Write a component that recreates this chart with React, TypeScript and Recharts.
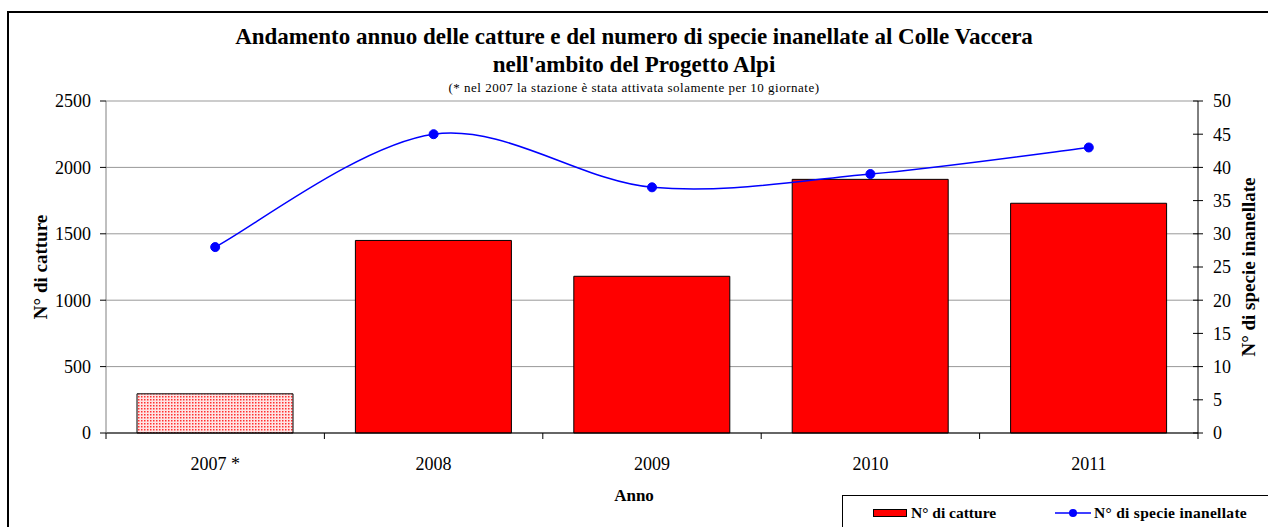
import { ComposedChart, Bar, Line, XAxis, YAxis, CartesianGrid, Cell } from "recharts";

const years = ["2007 *", "2008", "2009", "2010", "2011"];
const catture = [295, 1450, 1180, 1910, 1730];
const specie = [28, 45, 37, 39, 43];
const leftTicks = [0, 500, 1000, 1500, 2000, 2500];
const rightTicks = [0, 5, 10, 15, 20, 25, 30, 35, 40, 45, 50];

const data = years.map((anno, i) => ({ anno, catture: catture[i], specie: specie[i] }));

const FONT = "'Liberation Serif', 'Times New Roman', serif";

// Excel-like smoothed line (Catmull-Rom through the points)
function smoothCurve(context: any) {
  let pts: [number, number][] = [];
  return {
    areaStart() {},
    areaEnd() {},
    lineStart() {
      pts = [];
    },
    lineEnd() {
      if (!pts.length) return;
      context.moveTo(pts[0][0], pts[0][1]);
      for (let i = 0; i < pts.length - 1; i++) {
        const p0 = pts[i - 1] || pts[i];
        const p1 = pts[i];
        const p2 = pts[i + 1];
        const p3 = pts[i + 2] || p2;
        context.bezierCurveTo(
          p1[0] + (p2[0] - p0[0]) / 6,
          p1[1] + (p2[1] - p0[1]) / 6,
          p2[0] - (p3[0] - p1[0]) / 6,
          p2[1] - (p3[1] - p1[1]) / 6,
          p2[0],
          p2[1]
        );
      }
    },
    point(x: number, y: number) {
      pts.push([x, y]);
    },
  };
}

const XTick = (props: any) => {
  const { x, y, payload, index, width, visibleTicksCount } = props;
  const band = width / visibleTicksCount;
  const ay = y - 6;
  return (
    <g>
      <line x1={x - band / 2} x2={x - band / 2} y1={ay} y2={ay + 6} stroke="#000" />
      {index === visibleTicksCount - 1 && (
        <line x1={x + band / 2} x2={x + band / 2} y1={ay} y2={ay + 6} stroke="#000" />
      )}
      <text x={x} y={y + 18} dy="0.71em" textAnchor="middle" fontFamily={FONT} fontSize={18} fill="#000">
        {payload.value}
      </text>
    </g>
  );
};

const RightTick = (props: any) => {
  const { x, y, payload } = props;
  const ax = x - 5 - 10;
  return (
    <g>
      <line x1={ax - 5} x2={ax} y1={y} y2={y} stroke="#000" />
      <text x={x} y={y} dy="0.355em" textAnchor="start" fontFamily={FONT} fontSize={18} fill="#000">
        {payload.value}
      </text>
    </g>
  );
};

const LeftLabel = (props: any) => {
  const { viewBox } = props;
  const cx = viewBox.x + 20;
  const cy = viewBox.y + viewBox.height / 2;
  return (
    <text x={cx} y={cy} transform={`rotate(-90, ${cx}, ${cy})`} textAnchor="middle" dominantBaseline="central"
      fontFamily={FONT} fontSize={19} fontWeight="bold" fill="#000">
      N° di catture
    </text>
  );
};

const RightLabel = (props: any) => {
  const { viewBox } = props;
  const cx = viewBox.x + 50;
  const cy = viewBox.y + viewBox.height / 2;
  return (
    <text x={cx} y={cy} transform={`rotate(-90, ${cx}, ${cy})`} textAnchor="middle" dominantBaseline="central"
      fontFamily={FONT} fontSize={19} fontWeight="bold" fill="#000">
      N° di specie inanellate
    </text>
  );
};

export default function App() {
  return (
    <div style={{ position: "absolute", left: 0, top: 0, width: 1268, height: 527, overflow: "hidden", background: "#fff", fontFamily: FONT }}>
      <div style={{ position: "absolute", left: 7, top: 11, width: 1300, height: 600, border: "2px solid #000", boxSizing: "border-box" }} />
      <div style={{ position: "absolute", left: 0, top: 0 }}>
        <ComposedChart width={1268} height={527} data={data} margin={{ top: 101, right: 10, left: 20, bottom: 64 }}>
          <defs>
            <pattern id="dots" width="3" height="3" patternUnits="userSpaceOnUse">
              <rect width="3" height="3" fill="#ffe4e4" />
              <rect width="1.5" height="1.5" fill="#ff3030" />
            </pattern>
          </defs>
          <CartesianGrid yAxisId="left" vertical={false} stroke="#999" />
          <XAxis dataKey="anno" height={30} stroke="#000" tickLine={false} tickSize={6} tickMargin={0} tick={<XTick />} interval={0} />
          <YAxis yAxisId="left" orientation="left" width={86} domain={[0, 2500]} ticks={leftTicks}
            stroke="#808080" tickLine={{ stroke: "#000" }} tickSize={6} tickMargin={9}
            tick={{ fill: "#000", fontSize: 18, fontFamily: FONT }} label={<LeftLabel />} />
          <YAxis yAxisId="right" orientation="right" width={60} domain={[0, 50]} ticks={rightTicks}
            stroke="#000" tickSize={5} tickMargin={10} tick={<RightTick />} label={<RightLabel />} />
          <Bar yAxisId="left" dataKey="catture" barSize={156} fill="#ff0000" stroke="#000" strokeWidth={1} isAnimationActive={false}>
            {data.map((d, i) => (
              <Cell key={d.anno} fill={i === 0 ? "url(#dots)" : "#ff0000"} />
            ))}
          </Bar>
          <Line yAxisId="right" dataKey="specie" type={smoothCurve as any} stroke="#0000ff" strokeWidth={1.5}
            dot={{ r: 4.5, fill: "#0000ff", stroke: "#0000ff", strokeWidth: 1 }} isAnimationActive={false} />
        </ComposedChart>
      </div>
      <div style={{ position: "absolute", left: 0, width: 1268, top: 23, textAlign: "center", fontWeight: "bold", fontSize: 23, lineHeight: "28px" }}>
        Andamento annuo delle catture e del numero di specie inanellate al Colle Vaccera
        <br />
        nell'ambito del Progetto Alpi
      </div>
      <div style={{ position: "absolute", left: 0, width: 1268, top: 80, textAlign: "center", fontSize: 13, letterSpacing: 0.5, lineHeight: "16px" }}>
        (* nel 2007 la stazione è stata attivata solamente per 10 giornate)
      </div>
      <div style={{ position: "absolute", left: 0, width: 1268, top: 486, textAlign: "center", fontWeight: "bold", fontSize: 17, lineHeight: "20px" }}>
        Anno
      </div>
      <div style={{ position: "absolute", left: 842, top: 495, width: 500, height: 100, border: "1px solid #000", boxSizing: "border-box" }}>
        <div style={{ position: "absolute", left: 30, top: 13, width: 34, height: 8, background: "#ff0000", border: "1px solid #000", boxSizing: "border-box" }} />
        <div style={{ position: "absolute", left: 68, top: 7, fontWeight: "bold", fontSize: 15.5, lineHeight: "20px", whiteSpace: "nowrap" }}>N° di catture</div>
        <svg style={{ position: "absolute", left: 212, top: 10 }} width={38} height={14}>
          <line x1={0} x2={36} y1={7} y2={7} stroke="#0000ff" strokeWidth={1.5} />
          <circle cx={18} cy={7} r={4} fill="#0000ff" />
        </svg>
        <div style={{ position: "absolute", left: 251, top: 7, fontWeight: "bold", fontSize: 15.5, letterSpacing: 0.3, lineHeight: "20px", whiteSpace: "nowrap" }}>N° di specie inanellate</div>
      </div>
    </div>
  );
}
